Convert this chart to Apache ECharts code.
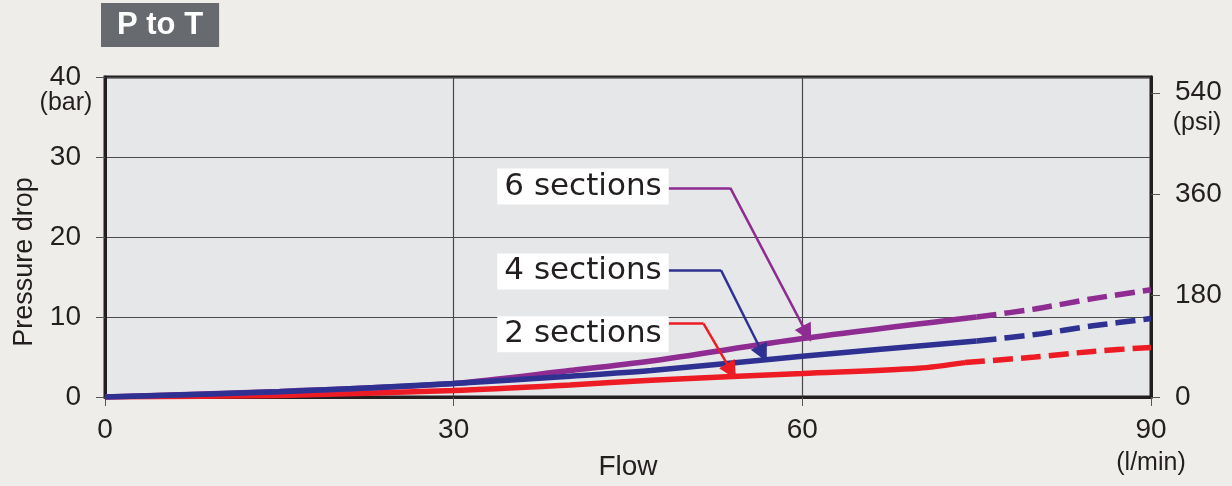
<!DOCTYPE html>
<html><head><meta charset="utf-8">
<script src="https://cdn.jsdelivr.net/npm/echarts@6/dist/echarts.min.js"></script>
<style>html,body{margin:0;padding:0;background:#eeede9}#c{width:1232px;height:486px}</style>
</head><body><div id="c"></div>
<script>
// Flow (l/min) vs pressure drop (bar)
const sec6Solid  = [[0,0],[15,0.7],[30,1.7],[40,3.3],[47,4.5],[60,7.3],[75,10.0]];
const sec6Dashed = [[75,10.0],[80,11.0],[85,12.3],[90,13.4]];
const sec4Solid  = [[0,0],[15,0.65],[30,1.7],[40,2.6],[47,3.3],[60,5.1],[75,7.0]];
const sec4Dashed = [[75,7.0],[80,7.8],[85,8.9],[90,9.8]];
const sec2Solid  = [[0,0],[15,0.2],[30,0.8],[40,1.5],[47,2.1],[60,2.95],[70,3.6],[74,4.3]];
const sec2Dashed = [[74,4.3],[80,5.0],[85,5.7],[90,6.2]];
const seriesNames = ['6 sections','4 sections','2 sections'];
// annotation anchors (data coords)
const labelAnchors = [[48.5,26.3],[48.5,15.7],[48.5,7.85]];
const leaderHoriz = [[[48.5,26.15],[53.8,26.15]],[[48.5,15.85],[53.0,15.85]],[[48.5,9.18],[51.5,9.18]]];
const leaderDiag  = [[[53.8,26.15],[60.4,7.9]],[[53.0,15.85],[56.6,5.4]],[[51.5,9.18],[53.9,3.2]]];
const xTicks = [0,30,60,90];
const psiTicks = [0,180,360,540];

const colors = ['#8e2c91','#2e3192','#ed1c24'];
const FONT = 'Liberation Sans, Arial, sans-serif';
const TXT = '#231f20';

const chart = echarts.init(document.getElementById('c'));
function lineS(data, color, dashed, z){
  return {type:'line', data, showSymbol:false, symbol:'none', smooth:0.3, z,
    lineStyle:{color, width:5.5, type: dashed ? [20,8] : 'solid', cap:'butt'}, silent:true, animation:false};
}
const solids = [sec6Solid, sec4Solid, sec2Solid];
const dashes = [sec6Dashed, sec4Dashed, sec2Dashed];
const zs = [4,5,3];
const series = [];
for (let i=0;i<3;i++){
  series.push(lineS(solids[i], colors[i], false, zs[i]));
  series.push(lineS(dashes[i], colors[i], true, zs[i]));
}
series.push({type:'lines', coordinateSystem:'cartesian2d', z:6, animation:false, silent:true,
  symbol:['none','none'],
  data: leaderHoriz.map((c,i)=>({coords:c, lineStyle:{color:colors[i], width:2.5, opacity:1}}))});
series.push({type:'lines', coordinateSystem:'cartesian2d', z:6, animation:false, silent:true,
  symbol:['none','triangle'], symbolSize:[12,18],
  data: leaderDiag.map((c,i)=>({coords:c, lineStyle:{color:colors[i], width:2.5, opacity:1}}))});
series.push({type:'scatter', z:7, animation:false, silent:true, symbolSize:0, itemStyle:{opacity:1},
  data: labelAnchors.map((p,i)=>({value:p, name:seriesNames[i]})),
  label:{show:true, position:'left', distance:0, formatter:p=>p.name, opacity:1,
    backgroundColor:'#ffffff', padding:[3,7,2,7], fontSize:31, fontFamily:'DejaVu Sans, sans-serif', color:TXT}});

chart.setOption({
  backgroundColor:'#eeede9',
  animation:false,
  title:{text:'P to T', left:101, top:3, backgroundColor:'#676b6f', padding:[6,16,6,16],
    textStyle:{color:'#fff', fontSize:31, fontWeight:'bold', fontFamily:FONT, lineHeight:32}},
  grid:{left:105, right:81, top:77, bottom:88, show:true, backgroundColor:'#e6e7e9', borderColor:'#231f20', borderWidth:3},
  xAxis:{type:'value', min:0, max:90, interval:30, name:'Flow', nameLocation:'middle', nameGap:56,
    nameTextStyle:{fontSize:28, fontFamily:FONT, color:TXT},
    axisLine:{show:true, onZero:false, lineStyle:{color:'#231f20', width:3}},
    axisTick:{show:true, length:9, lineStyle:{color:'#555', width:1}},
    axisLabel:{fontSize:28, fontFamily:FONT, color:TXT, margin:19},
    splitLine:{show:true, lineStyle:{color:'#4a4a4a', width:1.2}}},
  yAxis:[
    {type:'value', min:0, max:40, interval:10, position:'left',
      axisLine:{show:true, lineStyle:{color:'#231f20', width:3}},
      axisTick:{show:true, length:9, lineStyle:{color:'#555', width:1}},
      axisLabel:{fontSize:28, fontFamily:FONT, color:TXT, margin:24},
      splitLine:{show:true, lineStyle:{color:'#4a4a4a', width:1.2}}},
    {type:'value', min:0, max:568, position:'right',
      axisLine:{show:true, lineStyle:{color:'#231f20', width:3}},
      axisTick:{show:true, length:9, customValues:psiTicks, lineStyle:{color:'#555', width:1}},
      axisLabel:{fontSize:28, fontFamily:FONT, color:TXT, margin:24, customValues:psiTicks},
      splitLine:{show:false}}
  ],
  graphic:[
    {type:'text', x:66, y:103, style:{text:'(bar)', fontSize:25, fontFamily:FONT, fill:TXT, textAlign:'center', textVerticalAlign:'middle'}},
    {type:'text', x:1197, y:123, style:{text:'(psi)', fontSize:25, fontFamily:FONT, fill:TXT, textAlign:'center', textVerticalAlign:'middle'}},
    {type:'text', x:1151, y:463, style:{text:'(l/min)', fontSize:25, fontFamily:FONT, fill:TXT, textAlign:'center', textVerticalAlign:'middle'}},
    {type:'text', x:25, y:262, rotation:Math.PI/2, style:{text:'Pressure drop', fontSize:27, fontFamily:FONT, fill:TXT, textAlign:'center', textVerticalAlign:'middle'}}
  ],
  series
});
</script></body></html>
